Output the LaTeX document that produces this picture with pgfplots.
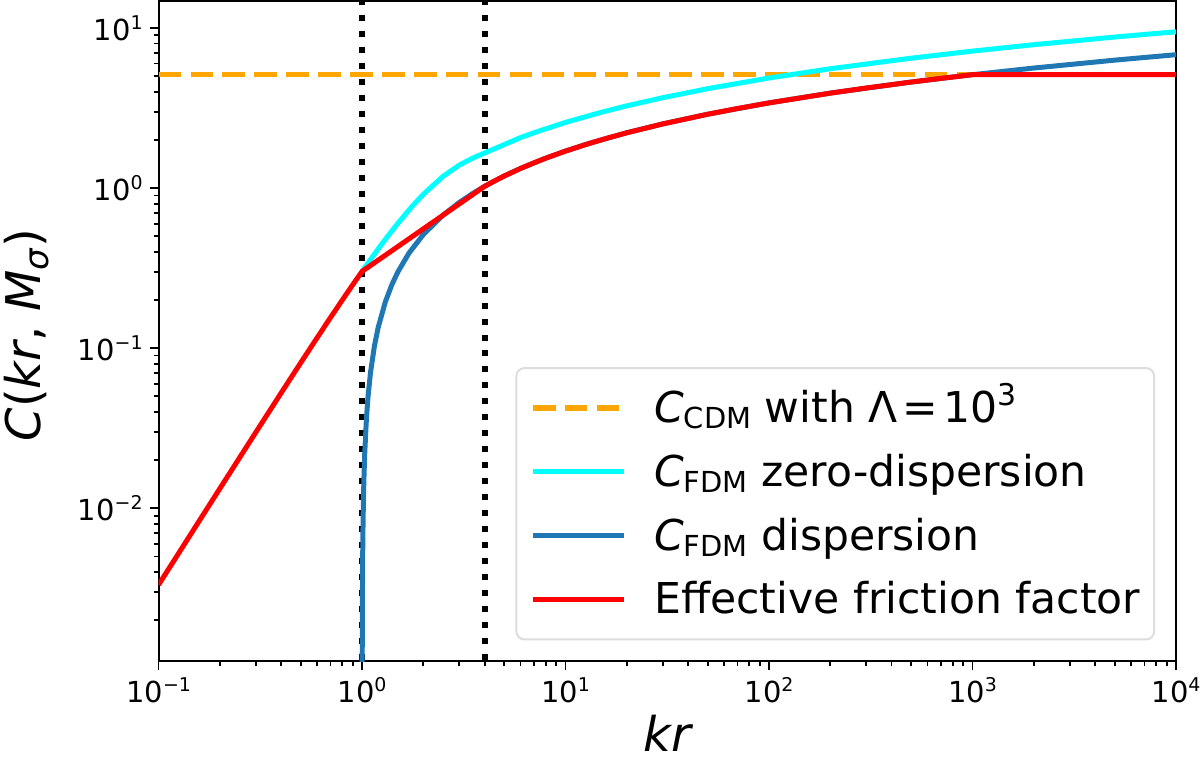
\documentclass[border=0pt]{standalone}
\usepackage{fontspec}
\setmainfont{DejaVu Sans}
\usepackage{pgfplots}
\pgfplotsset{compat=1.18}
\definecolor{mplorange}{HTML}{FFA500}
\definecolor{mplcyan}{HTML}{00FFFF}
\definecolor{mplblue}{HTML}{1F77B4}
\definecolor{mplred}{HTML}{FF0000}
\definecolor{legedge}{HTML}{DDDDDD}
\newcommand{\tl}[1]{10\raisebox{5.6pt}{\fontsize{9.5}{9.5}\selectfont #1}}
\newcommand{\lsub}[1]{\raisebox{-3pt}{\fontsize{14.5}{14.5}\selectfont #1}}
\begin{document}
\begin{tikzpicture}
\path[use as bounding box] (-79.5pt,-52pt) rectangle (522pt,331.5pt);
\begin{axis}[
  scale only axis, width=510pt, height=331pt,
  xmode=log, ymode=log,
  xmin=0.1, xmax=10000, ymin=1.106e-3, ymax=14.75,
  axis line style={line width=1pt},
  tick align=outside, tick pos=left,
  tick style={black, line width=0.9pt},
  major tick length=4.5pt, minor tick length=2.5pt,
  xtick={0.1,1,10,100,1000,10000},
  xticklabels={\tl{−1},\tl{0},\tl{1},\tl{2},\tl{3},\tl{4}},
  minor xtick={0.2,0.3,0.4,0.5,0.6,0.7,0.8,0.9,2,3,4,5,6,7,8,9,20,30,40,50,60,70,80,90,200,300,400,500,600,700,800,900,2000,3000,4000,5000,6000,7000,8000,9000},
  ytick={0.01,0.1,1,10},
  yticklabels={\tl{−2},\tl{−1},\tl{0},\tl{1}},
  minor ytick={0.002,0.003,0.004,0.005,0.006,0.007,0.008,0.009,0.02,0.03,0.04,0.05,0.06,0.07,0.08,0.09,0.2,0.3,0.4,0.5,0.6,0.7,0.8,0.9,2,3,4,5,6,7,8,9},
  ticklabel style={font=\fontsize{14.5}{14.5}\selectfont},
  xlabel={\fontsize{24}{24}\selectfont\textit{kr}},
  ylabel={\fontsize{24}{24}\selectfont\textit{C}(\textit{kr}, \textit{M}\raisebox{-4pt}{\fontsize{17}{17}\selectfont\textit{σ}})},
  xlabel style={at={(axis description cs:0.5015,0)}, anchor=center, inner sep=0pt, yshift=-36pt},
  ylabel style={at={(axis description cs:0,0.494)}, anchor=center, yshift=66pt},
  legend cell align=left,
  legend image code/.code={\draw[#1] (0pt,0pt) -- (45.5pt,0pt);},
  legend style={
    at={(1,0)}, anchor=south east, xshift=-10.5pt, yshift=10.5pt,
    font=\fontsize{21.3}{21.3}\selectfont,
    draw=legedge, line width=1pt, rounded corners=4pt, fill=white,
    inner xsep=7pt, inner ysep=8.8pt,
    row sep=9.6pt,
    nodes={inner sep=0pt, text height=18.4pt, text depth=4pt},
    /tikz/every odd column/.append style={column sep=14pt},
  },
]
\addplot[mplorange, line width=2.6pt, dash pattern=on 11.3pt off 4.7pt] coordinates {(0.1,5.11174) (10000,5.11174)};
\addlegendentry{\textit{C}\lsub{CDM} with Λ\hspace{0.12em}=\hspace{0.12em}10\raisebox{8.5pt}{\fontsize{15}{15}\selectfont 3}}
\addplot[black, line width=3pt, dash pattern=on 3pt off 5pt, forget plot] coordinates {(1,0.0009) (1,20)};
\addplot[black, line width=3pt, dash pattern=on 3pt off 5pt, forget plot] coordinates {(4,0.0009) (4,20)};
\addplot[mplcyan, line width=2.5pt] coordinates {
(1,0.30203)(1.1,0.35811)(1.25,0.44778)(1.5,0.60324)(1.75,0.76188)(2,0.91529)(2.5,1.18491)(3,1.39047)(3.5,1.54029)(4,1.65777)(5,1.87087)(6,2.0672)(7,2.21698)(8,2.34607)(10,2.57418)(15,2.97859)(20,3.26568)(30,3.6713)(50,4.18239)(100,4.87554)(200,5.56869)(500,6.48498)(1000,7.17813)(2000,7.87127)(5000,8.78756)(10000,9.48071)};
\addlegendentry{\textit{C}\lsub{FDM} zero-dispersion}
\addplot[mplblue, line width=2.5pt] coordinates {
(1.0014,0.0010353)(1.0015,0.001109)(1.002,0.001479)(1.003,0.002217)(1.005,0.003691)(1.0075,0.005529)(1.01,0.007363)(1.015,0.011018)(1.02,0.014654)(1.03,0.021874)(1.05,0.036105)(1.07,0.05007)(1.1,0.07053)(1.15,0.10342)(1.2,0.13492)(1.3,0.19415)(1.4,0.24899)(1.5,0.30004)(1.7,0.39267)(2,0.51293)(2.5,0.67806)(3,0.81297)(3.5,0.92704)(4,1.02586)(5,1.19098)(6,1.32590)(8,1.53879)(10,1.70391)(13,1.89806)(20,2.21684)(30,2.51689)(50,2.89490)(100,3.40783)(200,3.92075)(500,4.59881)(1000,5.11174)(2000,5.62467)(5000,6.30272)(10000,6.81565)};
\addlegendentry{\textit{C}\lsub{FDM} dispersion}
\addplot[mplred, line width=2.5pt] coordinates {
(0.1,0.00333)(0.15,0.007483)(0.2,0.01328)(0.3,0.02973)(0.4,0.05249)(0.5,0.08128)(0.6,0.11578)(0.7,0.15557)(0.8,0.20022)(0.9,0.24922)(1,0.30203)(4,1.02586)(4.5,1.11302)(5,1.19098)(6,1.32590)(7,1.43997)(8,1.53879)(10,1.70391)(13,1.89806)(16,2.05172)(20,2.21684)(30,2.51689)(50,2.89490)(70,3.14389)(100,3.40783)(200,3.92075)(300,4.22080)(500,4.59881)(700,4.84780)(1000,5.11174)(2000,5.11174)(5000,5.11174)(10000,5.11174)};
\addlegendentry{Effective friction factor}
\end{axis}
\end{tikzpicture}
\end{document}
